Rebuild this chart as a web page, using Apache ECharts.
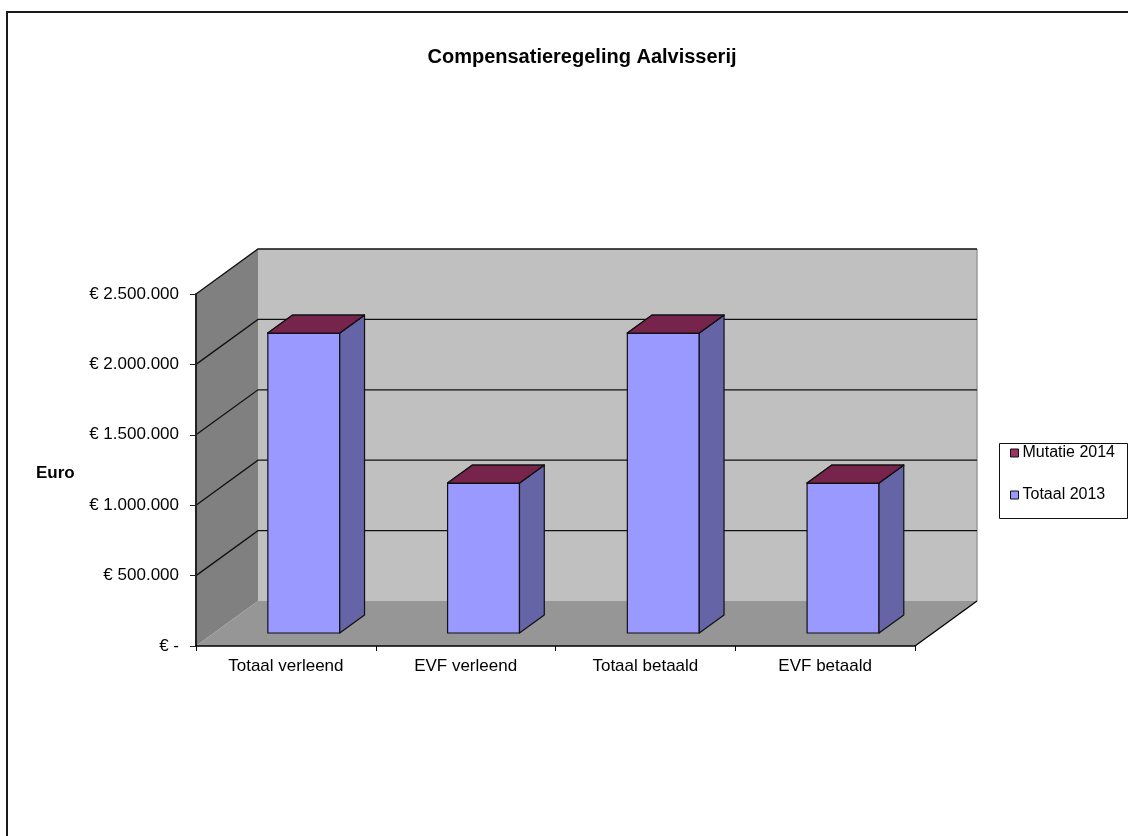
<!DOCTYPE html>
<html>
<head>
<meta charset="utf-8">
<script src="https://cdn.jsdelivr.net/npm/echarts@6/dist/echarts.min.js"></script>
<style>
  html, body { margin: 0; padding: 0; background: #fff; }
  #chart { width: 1128px; height: 836px; }
</style>
</head>
<body>
<div id="chart"></div>
<script>
// data
var categories = ['Totaal verleend', 'EVF verleend', 'Totaal betaald', 'EVF betaald'];
var totaal2013 = [2130000, 1065000, 2130000, 1065000];
var mutatie2014 = [0, 0, 0, 0];
var yTicks = [0, 500000, 1000000, 1500000, 2000000, 2500000];

// 3D look: depth offset of the walls, bars sit between f0 and f1 of that depth
var DX = 62, DY = -45;
var F0 = 13 / 45, F1 = 31 / 45;
var FONT = "'Liberation Sans', Arial, sans-serif";

function euro(v) {
    if (v === 0) return '€ -';
    return '€ ' + String(v).replace(/\B(?=(\d{3})+(?!\d))/g, '.');
}

// walls, floor and gridlines
function renderWalls(params, api) {
    var cs = params.coordSys;
    var L = cs.x, T = cs.y, R = cs.x + cs.width, B = cs.y + cs.height;
    var children = [
        { type: 'rect', shape: { x: L + DX, y: T + DY, width: R - L, height: B - T }, style: { fill: '#c0c0c0' } },
        { type: 'polygon', shape: { points: [[L, T], [L + DX, T + DY], [L + DX, B + DY], [L, B]] }, style: { fill: '#808080' } },
        { type: 'polygon', shape: { points: [[L, B], [R, B], [R + DX, B + DY], [L + DX, B + DY]] }, style: { fill: '#969696' } },
        { type: 'line', shape: { x1: R + DX, y1: T + DY, x2: R + DX, y2: B + DY }, style: { stroke: '#9a9a9a', lineWidth: 1.5 } },
        { type: 'line', shape: { x1: R, y1: B, x2: R + DX, y2: B + DY }, style: { stroke: '#000', lineWidth: 1.3 } }
    ];
    for (var i = 1; i < yTicks.length; i++) {
        var y = api.coord([0, yTicks[i]])[1];
        children.push({
            type: 'polyline',
            shape: { points: [[L, y], [L + DX, y + DY], [R + DX, y + DY]] },
            style: { stroke: '#111', lineWidth: 1.3, fill: null }
        });
    }
    return { type: 'group', children: children };
}

// one box of a stacked bar: front face, side face, top face
function makeBox(api, topColor, frontColor, sideColor) {
    var idx = api.value(0);
    var lo = api.value(1), hi = api.value(2);
    var base = api.coord([idx, lo]);
    var top = api.coord([idx, hi]);
    var w = api.size([1, 0])[0] * 0.4;
    var px = DX * F0, py = DY * F0;
    var dx = DX * (F1 - F0), dy = DY * (F1 - F0);
    var xl = base[0] - w / 2 + px, xr = base[0] + w / 2 + px;
    var yb = base[1] + py, yt = top[1] + py;
    var st = { stroke: '#111', lineWidth: 1.2, lineJoin: 'round' };
    return {
        type: 'group',
        children: [
            { type: 'polygon', shape: { points: [[xl, yt], [xr, yt], [xr, yb], [xl, yb]] }, style: Object.assign({ fill: frontColor }, st) },
            { type: 'polygon', shape: { points: [[xr, yt], [xr + dx, yt + dy], [xr + dx, yb + dy], [xr, yb]] }, style: Object.assign({ fill: sideColor }, st) },
            { type: 'polygon', shape: { points: [[xl, yt], [xl + dx, yt + dy], [xr + dx, yt + dy], [xr, yt]] }, style: Object.assign({ fill: topColor }, st) }
        ]
    };
}

var totaalData = [], mutatieData = [];
for (var i = 0; i < categories.length; i++) {
    totaalData.push([i, 0, totaal2013[i]]);
    mutatieData.push([i, totaal2013[i], totaal2013[i] + mutatie2014[i]]);
}

var myChart = echarts.init(document.getElementById('chart'), null, { renderer: 'canvas' });

var option = {
    animation: false,
    backgroundColor: '#fff',
    textStyle: { fontFamily: FONT },
    title: {
        text: 'Compensatieregeling Aalvisserij',
        left: 577,
        top: 42,
        textAlign: 'center',
        textStyle: { fontFamily: FONT, fontSize: 20, fontWeight: 'bold', color: '#000' }
    },
    graphic: [
        { type: 'rect', z: 0, silent: true, shape: { x: 7, y: 12, width: 1135, height: 840 }, style: { fill: null, stroke: '#1a1a1a', lineWidth: 2 } },
        { type: 'rect', z: 0, silent: true, shape: { x: 999.5, y: 443.5, width: 128, height: 75 }, style: { fill: '#fff', stroke: '#111', lineWidth: 1 } },
        { type: 'text', z: 5, left: 36, top: 465, style: { text: 'Euro', fontFamily: FONT, fontSize: 17, fontWeight: 'bold', fill: '#000' } }
    ],
    legend: {
        orient: 'vertical',
        left: 1010,
        top: 443,
        padding: 0,
        itemGap: 22,
        itemWidth: 8,
        itemHeight: 8,
        data: [
            { name: 'Mutatie 2014', icon: 'rect' },
            { name: 'Totaal 2013', icon: 'rect' }
        ],
        itemStyle: { borderColor: '#111', borderWidth: 1 },
        textStyle: { fontFamily: FONT, fontSize: 16, lineHeight: 20, color: '#000', padding: [0, 0, 0, -1] }
    },
    grid: { left: 196, top: 294, width: 719, height: 352 },
    xAxis: {
        type: 'category',
        data: categories,
        z: 10,
        axisLine: { lineStyle: { color: '#000', width: 1.5 } },
        axisTick: { show: true, length: 5, lineStyle: { color: '#000' } },
        axisLabel: { margin: 12, fontFamily: FONT, fontSize: 17, color: '#000' },
        splitLine: { show: false }
    },
    yAxis: {
        type: 'value',
        min: 0,
        max: 2500000,
        interval: 500000,
        z: 10,
        axisLine: { show: true, lineStyle: { color: '#222', width: 2 } },
        axisTick: { show: true, length: 6, lineStyle: { color: '#222' } },
        axisLabel: { margin: 17, fontFamily: FONT, fontSize: 17, color: '#000', formatter: euro },
        splitLine: { show: false }
    },
    series: [
        {
            name: 'walls',
            type: 'custom',
            z: 1,
            clip: false,
            silent: true,
            renderItem: renderWalls,
            data: [[0, 0]]
        },
        {
            name: 'Totaal 2013',
            type: 'custom',
            z: 3,
            clip: false,
            itemStyle: { color: '#9999ff' },
            encode: { x: 0, y: 2 },
            renderItem: function (params, api) {
                return makeBox(api, '#9999ff', '#9999ff', '#6464a6');
            },
            data: totaalData
        },
        {
            name: 'Mutatie 2014',
            type: 'custom',
            z: 4,
            clip: false,
            itemStyle: { color: '#993366' },
            encode: { x: 0, y: 2 },
            renderItem: function (params, api) {
                return makeBox(api, '#76244c', '#993366', '#6a2346');
            },
            data: mutatieData
        }
    ]
};
myChart.setOption(option);
</script>
</body>
</html>
